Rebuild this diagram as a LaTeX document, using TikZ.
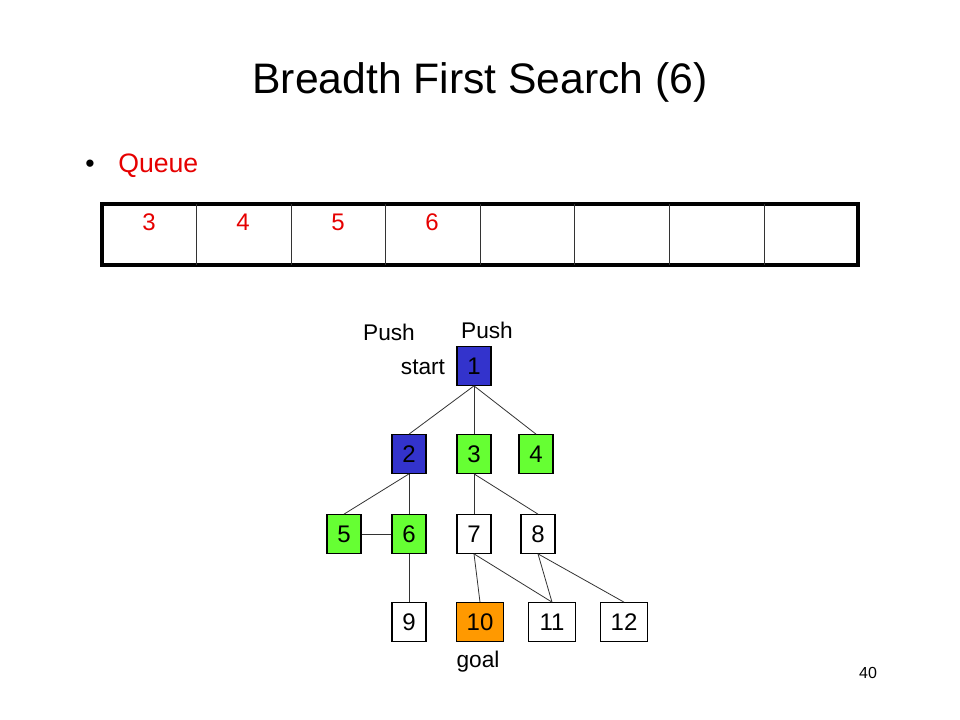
\documentclass[tikz,border=0pt]{standalone}
\usepackage{fontspec}
\setmainfont{Liberation Sans}
\definecolor{nblue}{RGB}{51,51,204}
\definecolor{ngreen}{RGB}{102,255,51}
\definecolor{norange}{RGB}{255,153,0}
\definecolor{qred}{RGB}{230,0,0}
\begin{document}
\begin{tikzpicture}[x=0.75pt,y=-0.75pt,
  tnode/.style={draw=black,line width=0.8pt,minimum width=25.5pt,minimum height=29pt,inner sep=0pt,font=\fontsize{18}{20}\selectfont},
  wide/.style={minimum width=35pt},
  edge/.style={draw=black!80,line width=0.6pt},
  lbl/.style={font=\fontsize{17}{20}\selectfont,inner sep=0pt},
  qnum/.style={font=\fontsize{18}{20}\selectfont,text=qred,inner sep=0pt}]
\useasboundingbox[fill=white] (0,0) rectangle (960,720);
% title
\node[font=\fontsize{32}{36}\selectfont,inner sep=0pt] (title) at (480,82) {Breadth First Search (6)};
\node[font=\fontsize{20}{24}\selectfont,inner sep=0pt] (bullet) at (90,166) {•};
\node[font=\fontsize{20}{24}\selectfont,text=qred,inner sep=0pt,anchor=west] (queue) at (118,166) {Queue};
% queue
\draw[line width=2.6pt] (102,204) rectangle (858,265);
\foreach \x in {196,291,385,480,574,669,764}{\draw[line width=0.6pt,black!80] (\x,204) -- (\x,265);}
\node[qnum] (q1) at (149,222) {3};
\node[qnum] (q2) at (243,222) {4};
\node[qnum] (q3) at (338,222) {5};
\node[qnum] (q4) at (432,222) {6};
% tree nodes
\node[tnode,fill=nblue] (n1) at (474,366) {1};
\node[tnode,fill=nblue] (n2) at (409,454) {2};
\node[tnode,fill=ngreen] (n3) at (474,454) {3};
\node[tnode,fill=ngreen] (n4) at (536,454) {4};
\node[tnode,fill=ngreen] (n5) at (344,534) {5};
\node[tnode,fill=ngreen] (n6) at (409,534) {6};
\node[tnode,fill=white] (n7) at (474,534) {7};
\node[tnode,fill=white] (n8) at (538,534) {8};
\node[tnode,fill=white] (n9) at (409,622) {9};
\node[tnode,wide,fill=norange] (n10) at (480,622) {10};
\node[tnode,wide,fill=white] (n11) at (552,622) {11};
\node[tnode,wide,fill=white] (n12) at (624,622) {12};
% edges
\draw[edge] (n1.south) -- (n2.north);
\draw[edge] (n1.south) -- (n3.north);
\draw[edge] (n1.south) -- (n4.north);
\draw[edge] (n2.south) -- (n5.north);
\draw[edge] (n2.south) -- (n6.north);
\draw[edge] (n3.south) -- (n7.north);
\draw[edge] (n3.south) -- (n8.north);
\draw[edge] (n5.east) -- (n6.west);
\draw[edge] (n6.south) -- (n9.north);
\draw[edge] (n7.south) -- (n10.north);
\draw[edge] (n7.south) -- (n11.north);
\draw[edge] (n8.south) -- (n11.north);
\draw[edge] (n8.south) -- (n12.north);
% labels
\node[lbl] (push1) at (389,332) {Push};
\node[lbl] (push2) at (487,330) {Push};
\node[lbl] (start) at (423,367) {start};
\node[lbl] (goal) at (478,662) {goal};
\node[font=\fontsize{12}{14}\selectfont,inner sep=0pt] (page) at (868,673) {40};
\end{tikzpicture}
\end{document}
